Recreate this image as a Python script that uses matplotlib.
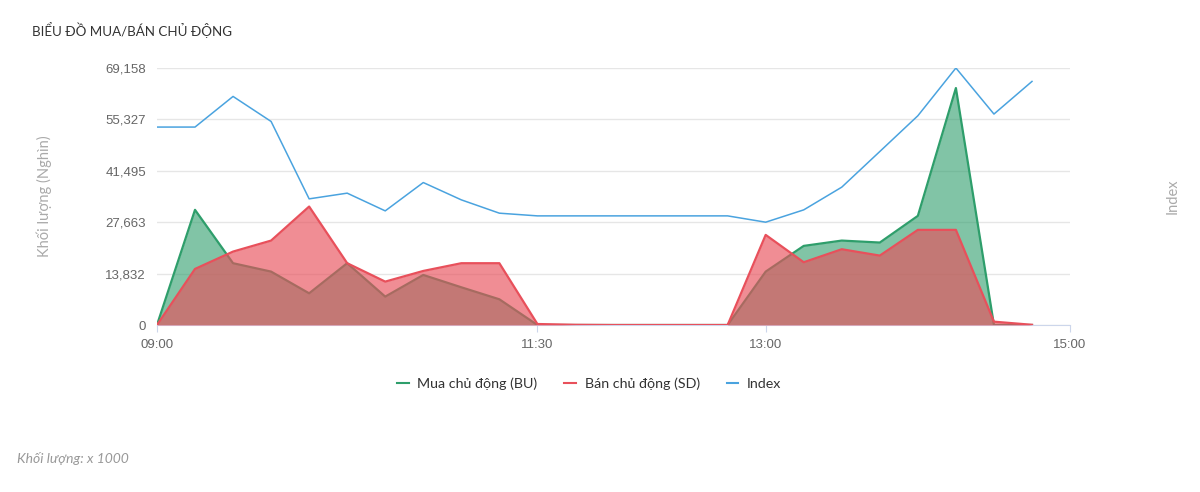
import numpy as np
import matplotlib
matplotlib.use("Agg")
import matplotlib.pyplot as plt
from matplotlib.ticker import FuncFormatter
from matplotlib.lines import Line2D

times = ["09:00", "09:15", "09:30", "09:45", "10:00", "10:15", "10:30", "10:45",
         "11:00", "11:15", "11:30", "11:45", "12:00", "12:15", "12:30", "12:45",
         "13:00", "13:15", "13:30", "13:45", "14:00", "14:15", "14:30", "14:45"]
buy_vol = [0, 30990, 16630, 14370, 8530, 16630, 7640, 13470,
           10150, 6920, 0, 0, 0, 0, 0, 0,
           14370, 21290, 22720, 22190, 29370, 63770, 0, 0]
sell_vol = [0, 15090, 19760, 22720, 31880, 16630, 11680, 14550,
            16630, 16630, 270, 60, 0, 0, 0, 0,
            24250, 16890, 20390, 18680, 25600, 25600, 900, 60]
index_val = [1219.77, 1219.77, 1222.83, 1220.33, 1212.60, 1213.17, 1211.40, 1214.23,
             1212.50, 1211.17, 1210.90, 1210.90, 1210.90, 1210.90, 1210.90, 1210.90,
             1210.27, 1211.50, 1213.77, 1217.33, 1220.90, 1225.67, 1221.07, 1224.33]
vol_ticks = [0, 13832, 27663, 41495, 55327, 69158]
x_ticks = ["09:00", "11:30", "13:00", "15:00"]


def to_min(t):
    h, m = t.split(":")
    return (int(h) - 9) * 60 + int(m)


x = np.array([to_min(t) for t in times])

plt.rcParams['font.family'] = ['Liberation Sans', 'DejaVu Sans']
ui_font = ["Lato", "DejaVu Sans"]
fig = plt.figure(figsize=(12, 4.92), dpi=100)
ax = fig.add_axes([0.1308, 0.3394, 0.7609, 0.5224])

green = "#2e9e6b"
red = "#e8505b"
blue = "#4aa3df"

ax.fill_between(x, buy_vol, color=green, alpha=0.6, lw=0, zorder=2)
ax.plot(x, buy_vol, color=green, lw=1.6, zorder=3)
ax.fill_between(x, sell_vol, color=red, alpha=0.65, lw=0, zorder=4)
ax.plot(x, sell_vol, color=red, lw=1.6, zorder=5)

ax.set_xlim(0, 360)
ax.set_ylim(0, 69158)
ax.set_yticks(vol_ticks)
ax.yaxis.set_major_formatter(FuncFormatter(lambda v, p: f"{int(round(v)):,}"))
ax.set_xticks([to_min(t) for t in x_ticks])
ax.set_xticklabels(x_ticks)
ax.grid(axis="y", color="#e6e6e6", lw=1, zorder=0)
ax.set_axisbelow(True)
for s in ["top", "right", "left"]:
    ax.spines[s].set_visible(False)
ax.spines["bottom"].set_color("#ccd6eb")
ax.tick_params(axis="y", length=0, labelsize=9.5, labelcolor="#666666", pad=8)
ax.tick_params(axis="x", length=5, color="#ccd6eb", labelsize=9.5, labelcolor="#666666", pad=5)
ax.set_ylabel("Khối lượng (Nghìn)", color="#aaaaaa", fontsize=10.5,
              family=ui_font, labelpad=38)

ax2 = ax.twinx()
ax2.plot(x, index_val, color=blue, lw=1.1, zorder=6)
ax2.set_ylim(1200, 1225.67)
ax2.set_yticks([])
for s in ax2.spines.values():
    s.set_visible(False)
ax2.set_ylabel("Index", color="#aaaaaa", fontsize=10.5,
               family=ui_font, labelpad=69)

fig.text(0.027, 0.938, "BIỂU ĐỒ MUA/BÁN CHỦ ĐỘNG", fontsize=9.6, color="#333333",
         family=ui_font, va="center")
fig.text(0.014, 0.069, "Khối lượng: x 1000", fontsize=10, color="#999999",
         style="italic", family=ui_font, va="center")

handles = [Line2D([], [], color=green, lw=1.5),
           Line2D([], [], color=red, lw=1.5),
           Line2D([], [], color=blue, lw=1.5)]
labels = ["Mua chủ động (BU)", "Bán chủ động (SD)", "Index"]
fig.legend(handles, labels, loc="center", bbox_to_anchor=(0.491, 0.221), ncol=3,
           frameon=False, handlelength=0.8, handletextpad=0.6, columnspacing=1.9,
           prop={"family": ui_font, "size": 10.3},
           labelcolor="#333333")

fig.savefig("out.png", dpi=100)
